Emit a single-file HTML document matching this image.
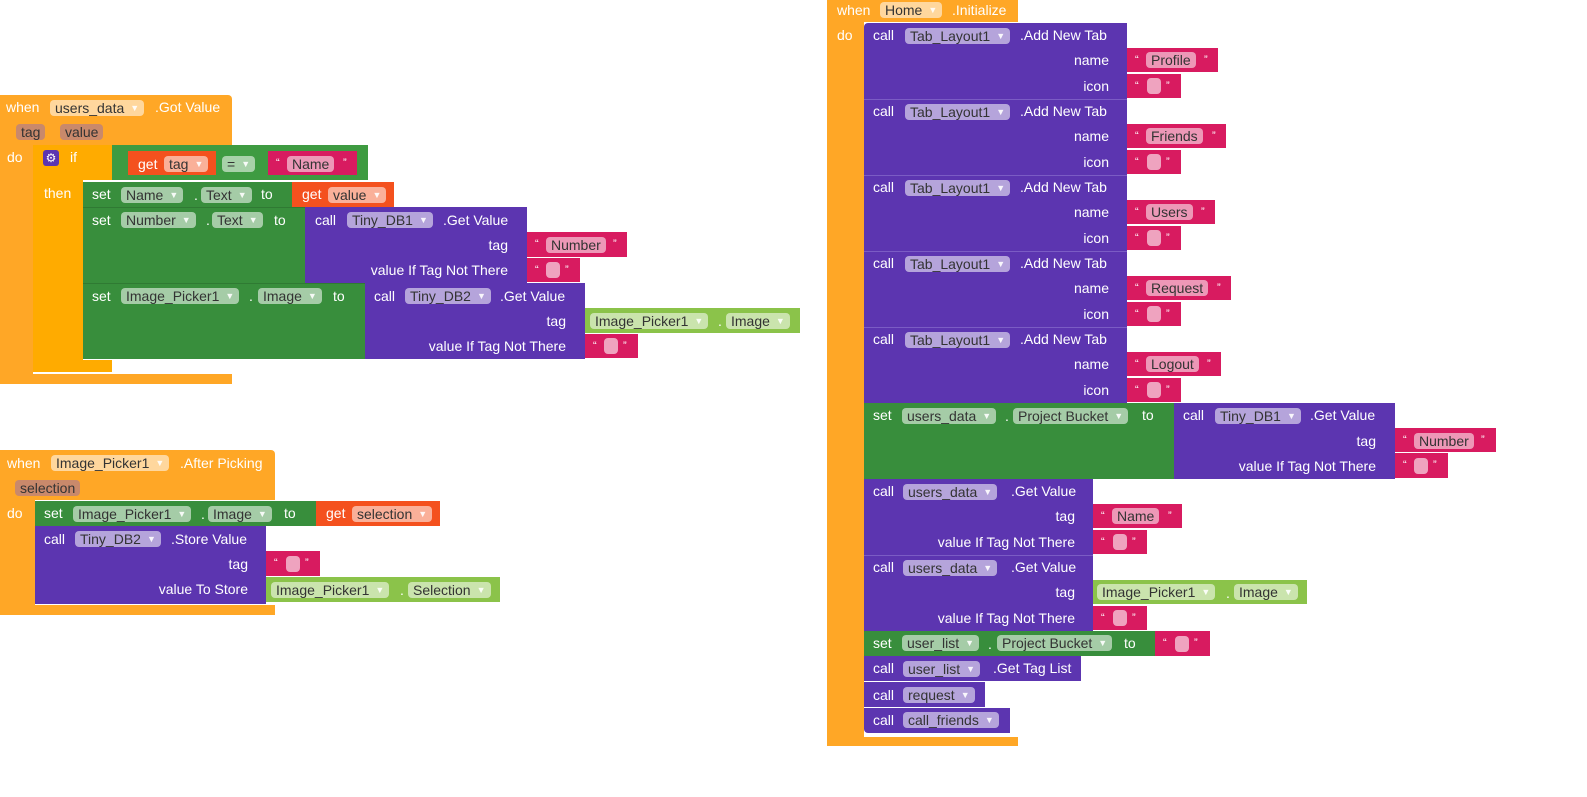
<!DOCTYPE html>
<html><head><meta charset="utf-8"><style>
body{margin:0;width:1587px;height:797px;background:#fff;position:relative;overflow:hidden;font-family:"Liberation Sans",sans-serif}
div,span{position:absolute;box-sizing:border-box}
.o{background:#FFA726}.a{background:#FFAB00}.g{background:#388E3C}.gc{background:#3E9B41}.p{background:#5C35B0}.r{background:#F4511E}.m{background:#D81B60}.l{background:#8BC34A}.br{background:#FFA726}
.t{color:#fff;font-size:14px;line-height:16px;white-space:nowrap}
.f{font-size:14px;line-height:16px;height:16px;padding:0 5px;border-radius:4px;color:#333;background:rgba(255,255,255,.55);white-space:nowrap}
.f i{font-style:normal;font-size:9px;color:rgba(255,255,255,.9);margin-left:6px;vertical-align:2px}
.bn{background:#C9896B;color:#333}
.q{color:#fff;font-size:11px;line-height:16px}
.e{width:14px;height:16px;border-radius:4px;background:rgba(255,255,255,.6)}
</style></head><body>

<!-- Block 1 -->
<div class="o" style="left:0;top:95px;width:232px;height:50px;border-radius:4px 4px 0 0"></div>
<div class="o" style="left:0;top:95px;width:33px;height:289px"></div>
<div class="o" style="left:0;top:374px;width:232px;height:10px"></div>
<div class="a" style="left:33px;top:145px;width:79px;height:35px"></div>
<div class="a" style="left:33px;top:145px;width:50px;height:227px"></div>
<div class="a" style="left:33px;top:360px;width:79px;height:12px"></div>
<span class="t" style="left:6px;top:99px">when</span>
<span class="f" style="left:50px;top:100px">users_data<i>▼</i></span>
<span class="t" style="left:155px;top:99px">.Got Value</span>
<span class="f bn" style="left:16px;top:124px">tag</span>
<span class="f bn" style="left:60px;top:124px">value</span>
<span class="t" style="left:7px;top:149px">do</span>
<div style="left:43px;top:150px;width:16px;height:16px;background:#5C35B0;border-radius:3px;color:#fff;font-size:12px;line-height:16px;text-align:center">⚙</div>
<span class="t" style="left:70px;top:149px">if</span>
<span class="t" style="left:44px;top:185px">then</span>
<div class="gc" style="left:112px;top:145px;width:256px;height:35px"></div>
<div class="r" style="left:128px;top:151px;width:88px;height:24px"></div>
<span class="t" style="left:138px;top:156px">get</span>
<span class="f" style="left:164px;top:156px">tag<i>▼</i></span>
<span class="f" style="left:222px;top:156px">=<i>▼</i></span>
<div class="m" style="left:268px;top:151px;width:89px;height:24px"></div>
<span class="q" style="left:276px;top:155px">“</span><span class="f" style="left:287px;top:156px">Name</span><span class="q" style="left:343px;top:155px">”</span>

<div class="g" style="left:83px;top:182px;width:209px;height:25px"></div>
<span class="t" style="left:92px;top:186px">set</span>
<span class="f" style="left:121px;top:187px">Name<i>▼</i></span>
<span class="t" style="left:194px;top:187px">.</span>
<span class="f" style="left:201px;top:187px">Text<i>▼</i></span>
<span class="t" style="left:261px;top:186px">to</span>
<div class="r" style="left:292px;top:182px;width:102px;height:25px"></div>
<span class="t" style="left:302px;top:186px">get</span>
<span class="f" style="left:328px;top:187px">value<i>▼</i></span>

<div class="g" style="left:83px;top:207px;width:222px;height:76px;border-top:1px solid #2f7a33"></div>
<span class="t" style="left:92px;top:212px">set</span>
<span class="f" style="left:121px;top:212px">Number<i>▼</i></span>
<span class="t" style="left:206px;top:212px">.</span>
<span class="f" style="left:212px;top:212px">Text<i>▼</i></span>
<span class="t" style="left:274px;top:212px">to</span>
<div class="p" style="left:305px;top:207px;width:222px;height:76px"></div>
<span class="t" style="left:315px;top:212px">call</span>
<span class="f" style="left:347px;top:212px">Tiny_DB1<i>▼</i></span>
<span class="t" style="left:443px;top:212px">.Get Value</span>
<span class="t" style="right:1079px;top:237px">tag</span>
<span class="t" style="right:1079px;top:262px">value If Tag Not There</span>
<div class="m" style="left:527px;top:232px;width:100px;height:25px"></div>
<span class="q" style="left:535px;top:236px">“</span><span class="f" style="left:546px;top:237px">Number</span><span class="q" style="left:613px;top:236px">”</span>
<div class="m" style="left:527px;top:258px;width:53px;height:24px"></div>
<span class="q" style="left:535px;top:262px">“</span><span class="e" style="left:546px;top:262px"></span><span class="q" style="left:565px;top:262px">”</span>

<div class="g" style="left:83px;top:283px;width:282px;height:76px;border-top:1px solid #2f7a33"></div>
<span class="t" style="left:92px;top:288px">set</span>
<span class="f" style="left:121px;top:288px">Image_Picker1<i>▼</i></span>
<span class="t" style="left:249px;top:288px">.</span>
<span class="f" style="left:258px;top:288px">Image<i>▼</i></span>
<span class="t" style="left:333px;top:288px">to</span>
<div class="p" style="left:365px;top:283px;width:220px;height:76px"></div>
<span class="t" style="left:374px;top:288px">call</span>
<span class="f" style="left:405px;top:288px">Tiny_DB2<i>▼</i></span>
<span class="t" style="left:500px;top:288px">.Get Value</span>
<span class="t" style="right:1021px;top:313px">tag</span>
<span class="t" style="right:1021px;top:338px">value If Tag Not There</span>
<div class="l" style="left:585px;top:308px;width:215px;height:25px"></div>
<span class="f" style="left:590px;top:313px">Image_Picker1<i>▼</i></span>
<span class="t" style="left:718px;top:313px">.</span>
<span class="f" style="left:726px;top:313px">Image<i>▼</i></span>
<div class="m" style="left:585px;top:334px;width:53px;height:24px"></div>
<span class="q" style="left:593px;top:338px">“</span><span class="e" style="left:604px;top:338px"></span><span class="q" style="left:623px;top:338px">”</span>

<!-- Block 2 -->
<div class="o" style="left:0;top:450px;width:275px;height:50px;border-radius:4px 4px 0 0"></div>
<div class="o" style="left:0;top:450px;width:35px;height:165px"></div>
<div class="o" style="left:0;top:605px;width:275px;height:10px"></div>
<span class="t" style="left:7px;top:455px">when</span>
<span class="f" style="left:51px;top:455px">Image_Picker1<i>▼</i></span>
<span class="t" style="left:180px;top:455px">.After Picking</span>
<span class="f bn" style="left:15px;top:480px">selection</span>
<span class="t" style="left:7px;top:505px">do</span>
<div class="g" style="left:35px;top:501px;width:281px;height:25px"></div>
<span class="t" style="left:44px;top:505px">set</span>
<span class="f" style="left:73px;top:506px">Image_Picker1<i>▼</i></span>
<span class="t" style="left:201px;top:506px">.</span>
<span class="f" style="left:208px;top:506px">Image<i>▼</i></span>
<span class="t" style="left:284px;top:505px">to</span>
<div class="r" style="left:316px;top:501px;width:124px;height:25px"></div>
<span class="t" style="left:326px;top:505px">get</span>
<span class="f" style="left:352px;top:506px">selection<i>▼</i></span>
<div class="p" style="left:35px;top:526px;width:231px;height:78px"></div>
<span class="t" style="left:44px;top:531px">call</span>
<span class="f" style="left:75px;top:531px">Tiny_DB2<i>▼</i></span>
<span class="t" style="left:171px;top:531px">.Store Value</span>
<span class="t" style="right:1339px;top:556px">tag</span>
<span class="t" style="right:1339px;top:581px">value To Store</span>
<div class="m" style="left:266px;top:551px;width:54px;height:25px"></div>
<span class="q" style="left:274px;top:555px">“</span><span class="e" style="left:286px;top:556px"></span><span class="q" style="left:305px;top:555px">”</span>
<div class="l" style="left:266px;top:577px;width:234px;height:25px"></div>
<span class="f" style="left:271px;top:582px">Image_Picker1<i>▼</i></span>
<span class="t" style="left:400px;top:582px">.</span>
<span class="f" style="left:408px;top:582px">Selection<i>▼</i></span>

<!-- Block 3 -->
<div class="o" style="left:827px;top:0;width:191px;height:22px"></div>
<div class="o" style="left:827px;top:0;width:37px;height:746px;border-radius:0 0 0 4px"></div>
<div class="o" style="left:827px;top:737px;width:191px;height:9px"></div>
<span class="t" style="left:837px;top:2px">when</span>
<span class="f" style="left:880px;top:2px">Home<i>▼</i></span>
<span class="t" style="left:952px;top:2px">.Initialize</span>
<span class="t" style="left:837px;top:27px">do</span>

<div class="p" style="left:864px;top:23px;width:263px;height:380px;border-radius:4px 0 0 0"></div>
<!-- tab 1 -->
<span class="t" style="left:873px;top:27px">call</span><span class="f" style="left:905px;top:28px">Tab_Layout1<i>▼</i></span><span class="t" style="left:1020px;top:27px">.Add New Tab</span>
<span class="t" style="right:478px;top:52px">name</span><span class="t" style="right:478px;top:78px">icon</span>
<div class="m" style="left:1127px;top:48px;width:91px;height:24px"></div><span class="q" style="left:1135px;top:52px">“</span><span class="f" style="left:1146px;top:52px">Profile</span><span class="q" style="left:1204px;top:52px">”</span>
<div class="m" style="left:1127px;top:74px;width:54px;height:24px"></div><span class="q" style="left:1135px;top:78px">“</span><span class="e" style="left:1147px;top:78px"></span><span class="q" style="left:1166px;top:78px">”</span>
<div style="left:864px;top:99px;width:263px;height:1px;background:#7b5cc4"></div>
<!-- tab 2 -->
<span class="t" style="left:873px;top:103px">call</span><span class="f" style="left:905px;top:104px">Tab_Layout1<i>▼</i></span><span class="t" style="left:1020px;top:103px">.Add New Tab</span>
<span class="t" style="right:478px;top:128px">name</span><span class="t" style="right:478px;top:154px">icon</span>
<div class="m" style="left:1127px;top:124px;width:99px;height:24px"></div><span class="q" style="left:1135px;top:128px">“</span><span class="f" style="left:1146px;top:128px">Friends</span><span class="q" style="left:1212px;top:128px">”</span>
<div class="m" style="left:1127px;top:150px;width:54px;height:24px"></div><span class="q" style="left:1135px;top:154px">“</span><span class="e" style="left:1147px;top:154px"></span><span class="q" style="left:1166px;top:154px">”</span>
<div style="left:864px;top:175px;width:263px;height:1px;background:#7b5cc4"></div>
<!-- tab 3 -->
<span class="t" style="left:873px;top:179px">call</span><span class="f" style="left:905px;top:180px">Tab_Layout1<i>▼</i></span><span class="t" style="left:1020px;top:179px">.Add New Tab</span>
<span class="t" style="right:478px;top:204px">name</span><span class="t" style="right:478px;top:230px">icon</span>
<div class="m" style="left:1127px;top:200px;width:88px;height:24px"></div><span class="q" style="left:1135px;top:204px">“</span><span class="f" style="left:1146px;top:204px">Users</span><span class="q" style="left:1201px;top:204px">”</span>
<div class="m" style="left:1127px;top:226px;width:54px;height:24px"></div><span class="q" style="left:1135px;top:230px">“</span><span class="e" style="left:1147px;top:230px"></span><span class="q" style="left:1166px;top:230px">”</span>
<div style="left:864px;top:251px;width:263px;height:1px;background:#7b5cc4"></div>
<!-- tab 4 -->
<span class="t" style="left:873px;top:255px">call</span><span class="f" style="left:905px;top:256px">Tab_Layout1<i>▼</i></span><span class="t" style="left:1020px;top:255px">.Add New Tab</span>
<span class="t" style="right:478px;top:280px">name</span><span class="t" style="right:478px;top:306px">icon</span>
<div class="m" style="left:1127px;top:276px;width:104px;height:24px"></div><span class="q" style="left:1135px;top:280px">“</span><span class="f" style="left:1146px;top:280px">Request</span><span class="q" style="left:1217px;top:280px">”</span>
<div class="m" style="left:1127px;top:302px;width:54px;height:24px"></div><span class="q" style="left:1135px;top:306px">“</span><span class="e" style="left:1147px;top:306px"></span><span class="q" style="left:1166px;top:306px">”</span>
<div style="left:864px;top:327px;width:263px;height:1px;background:#7b5cc4"></div>
<!-- tab 5 -->
<span class="t" style="left:873px;top:331px">call</span><span class="f" style="left:905px;top:332px">Tab_Layout1<i>▼</i></span><span class="t" style="left:1020px;top:331px">.Add New Tab</span>
<span class="t" style="right:478px;top:356px">name</span><span class="t" style="right:478px;top:382px">icon</span>
<div class="m" style="left:1127px;top:352px;width:94px;height:24px"></div><span class="q" style="left:1135px;top:356px">“</span><span class="f" style="left:1146px;top:356px">Logout</span><span class="q" style="left:1207px;top:356px">”</span>
<div class="m" style="left:1127px;top:378px;width:54px;height:24px"></div><span class="q" style="left:1135px;top:382px">“</span><span class="e" style="left:1147px;top:382px"></span><span class="q" style="left:1166px;top:382px">”</span>

<!-- set users_data -->
<div class="g" style="left:864px;top:403px;width:310px;height:76px"></div>
<span class="t" style="left:873px;top:407px">set</span>
<span class="f" style="left:902px;top:408px">users_data<i>▼</i></span>
<span class="t" style="left:1005px;top:408px">.</span>
<span class="f" style="left:1013px;top:408px">Project Bucket<i>▼</i></span>
<span class="t" style="left:1142px;top:407px">to</span>
<div class="p" style="left:1174px;top:403px;width:221px;height:76px"></div>
<span class="t" style="left:1183px;top:407px">call</span>
<span class="f" style="left:1215px;top:408px">Tiny_DB1<i>▼</i></span>
<span class="t" style="left:1310px;top:407px">.Get Value</span>
<span class="t" style="right:211px;top:433px">tag</span>
<span class="t" style="right:211px;top:458px">value If Tag Not There</span>
<div class="m" style="left:1395px;top:428px;width:101px;height:24px"></div><span class="q" style="left:1403px;top:432px">“</span><span class="f" style="left:1414px;top:433px">Number</span><span class="q" style="left:1481px;top:432px">”</span>
<div class="m" style="left:1395px;top:453px;width:53px;height:25px"></div><span class="q" style="left:1403px;top:457px">“</span><span class="e" style="left:1414px;top:458px"></span><span class="q" style="left:1433px;top:457px">”</span>

<!-- get value 1 -->
<div class="p" style="left:864px;top:479px;width:229px;height:152px"></div>
<span class="t" style="left:873px;top:483px">call</span>
<span class="f" style="left:903px;top:484px">users_data<i>▼</i></span>
<span class="t" style="left:1011px;top:483px">.Get Value</span>
<span class="t" style="right:512px;top:508px">tag</span>
<span class="t" style="right:512px;top:534px">value If Tag Not There</span>
<div class="m" style="left:1093px;top:504px;width:89px;height:24px"></div><span class="q" style="left:1101px;top:508px">“</span><span class="f" style="left:1112px;top:508px">Name</span><span class="q" style="left:1168px;top:508px">”</span>
<div class="m" style="left:1093px;top:530px;width:54px;height:24px"></div><span class="q" style="left:1101px;top:534px">“</span><span class="e" style="left:1113px;top:534px"></span><span class="q" style="left:1132px;top:534px">”</span>
<div style="left:864px;top:555px;width:229px;height:1px;background:#7b5cc4"></div>
<!-- get value 2 -->
<span class="t" style="left:873px;top:559px">call</span>
<span class="f" style="left:903px;top:560px">users_data<i>▼</i></span>
<span class="t" style="left:1011px;top:559px">.Get Value</span>
<span class="t" style="right:512px;top:584px">tag</span>
<span class="t" style="right:512px;top:610px">value If Tag Not There</span>
<div class="l" style="left:1093px;top:580px;width:214px;height:24px"></div>
<span class="f" style="left:1097px;top:584px">Image_Picker1<i>▼</i></span>
<span class="t" style="left:1226px;top:585px">.</span>
<span class="f" style="left:1234px;top:584px">Image<i>▼</i></span>
<div class="m" style="left:1093px;top:606px;width:54px;height:24px"></div><span class="q" style="left:1101px;top:610px">“</span><span class="e" style="left:1113px;top:610px"></span><span class="q" style="left:1132px;top:610px">”</span>

<!-- set user_list -->
<div class="g" style="left:864px;top:631px;width:291px;height:25px"></div>
<span class="t" style="left:873px;top:635px">set</span>
<span class="f" style="left:902px;top:635px">user_list<i>▼</i></span>
<span class="t" style="left:988px;top:636px">.</span>
<span class="f" style="left:997px;top:635px">Project Bucket<i>▼</i></span>
<span class="t" style="left:1124px;top:635px">to</span>
<div class="m" style="left:1155px;top:631px;width:55px;height:25px"></div><span class="q" style="left:1163px;top:635px">“</span><span class="e" style="left:1175px;top:636px"></span><span class="q" style="left:1194px;top:635px">”</span>

<div class="p" style="left:864px;top:656px;width:217px;height:25px"></div>
<span class="t" style="left:873px;top:660px">call</span>
<span class="f" style="left:903px;top:661px">user_list<i>▼</i></span>
<span class="t" style="left:993px;top:660px">.Get Tag List</span>
<div class="p" style="left:864px;top:682px;width:121px;height:25px"></div>
<span class="t" style="left:873px;top:687px">call</span>
<span class="f" style="left:903px;top:687px">request<i>▼</i></span>
<div class="p" style="left:864px;top:708px;width:146px;height:25px;border-radius:0 0 0 4px"></div>
<span class="t" style="left:873px;top:712px">call</span>
<span class="f" style="left:903px;top:712px">call_friends<i>▼</i></span>

</body></html>
